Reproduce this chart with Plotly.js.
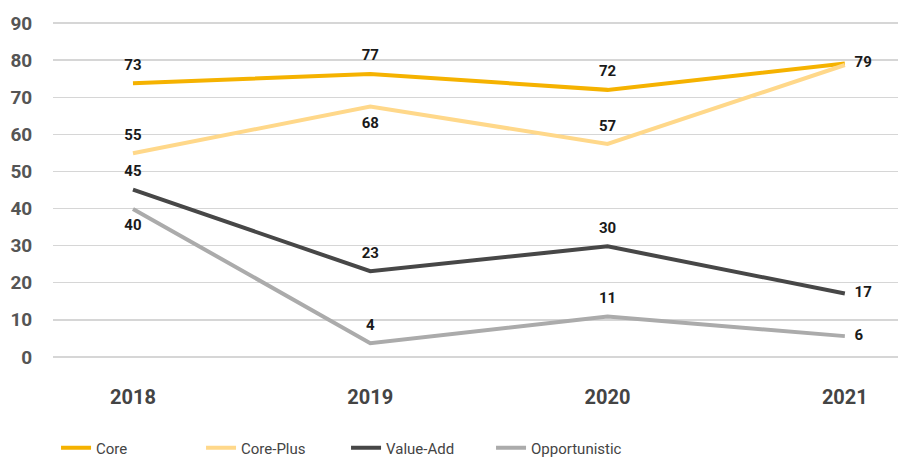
<!DOCTYPE html>
<html>
<head>
<meta charset="utf-8">
<script src="https://cdn.plot.ly/plotly-3.0.1.min.js"></script>
<style>html,body{margin:0;padding:0;background:#fff;}#chart{width:898px;height:458px;}</style>
</head>
<body>
<div id="chart"></div>
<script>
const years = ["2018", "2019", "2020", "2021"];
const seriesNames = ["Core", "Core-Plus", "Value-Add", "Opportunistic"];
const coreValues = [73.8, 76.3, 72.0, 79.1];
const corePlusValues = [54.9, 67.5, 57.4, 78.7];
const valueAddValues = [45.1, 23.1, 29.8, 17.1];
const opportunisticValues = [39.9, 3.7, 10.9, 5.6];
const coreLabels = ["73", "77", "72", "79"];
// 2021 Core-Plus label (79) coincides with the Core label and is shown once
const corePlusLabels = ["55", "68", "57", ""];
const valueAddLabels = ["45", "23", "30", "17"];
const opportunisticLabels = ["40", "4", "11", "6"];
const yTicks = [0, 10, 20, 30, 40, 50, 60, 70, 80, 90];

const colors = ["#F5B200", "#FFD88A", "#474747", "#ABABAB"];
const positions = [
  ["top center", "top center", "top center", "middle right"],
  ["top center", "bottom center", "top center", "middle right"],
  ["top center", "top center", "top center", "middle right"],
  ["bottom center", "top center", "top center", "middle right"]
];
const allValues = [coreValues, corePlusValues, valueAddValues, opportunisticValues];
const allLabels = [coreLabels, corePlusLabels, valueAddLabels, opportunisticLabels];

const traces = allValues.map((vals, i) => ({
  type: "scatter",
  mode: "lines+markers+text",
  name: seriesNames[i],
  x: years,
  y: vals,
  text: allLabels[i],
  textposition: positions[i],
  textfont: {family: "Roboto, 'DejaVu Sans', sans-serif", size: 15, color: "#1a1a1a", weight: 700},
  line: {color: colors[i], width: 4},
  marker: {size: 14, color: "rgba(0,0,0,0)", line: {width: 0}},
  cliponaxis: false,
  hoverinfo: "skip"
}));

const layout = {
  width: 898,
  height: 458,
  margin: {l: 53, r: 0, t: 22, b: 100},
  paper_bgcolor: "#ffffff",
  plot_bgcolor: "#ffffff",
  showlegend: true,
  font: {family: "Roboto, 'DejaVu Sans', sans-serif"},
  xaxis: {
    type: "category",
    range: [-0.337, 3.224],
    showgrid: false,
    zeroline: false,
    showline: false,
    ticks: "outside",
    ticklen: 21,
    tickcolor: "rgba(0,0,0,0)",
    tickfont: {size: 20, color: "#444444", weight: 700}
  },
  yaxis: {
    range: [-0.3, 90.3],
    tickvals: yTicks,
    showgrid: true,
    gridcolor: "#d6d6d6",
    gridwidth: 1.5,
    zeroline: false,
    showline: false,
    ticks: "outside",
    ticklen: 16,
    tickcolor: "rgba(0,0,0,0)",
    tickfont: {size: 19, color: "#555555", weight: 700}
  },
  legend: {
    orientation: "h",
    xref: "container",
    yref: "container",
    x: 0.0624,
    xanchor: "left",
    y: 0.022,
    yanchor: "middle",
    entrywidth: 100,
    font: {size: 15, color: "#444444"},
    itemwidth: 30
  }
};

Plotly.newPlot("chart", traces, layout, {staticPlot: true});
</script>
</body>
</html>
